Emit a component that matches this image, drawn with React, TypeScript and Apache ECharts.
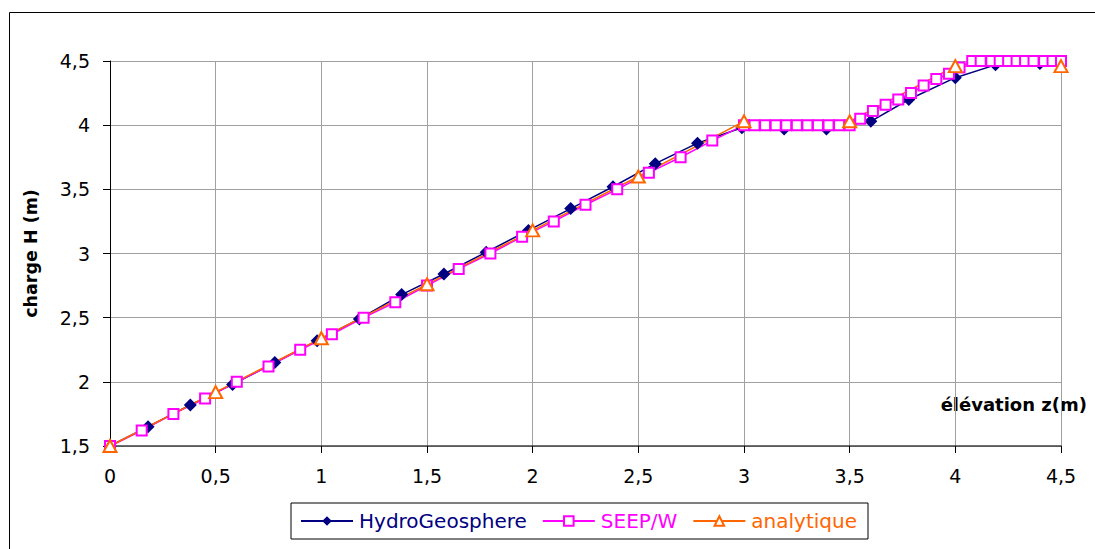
import React, { useEffect, useRef } from "react";
import * as echarts from "echarts";

const xTicks = [0, 0.5, 1, 1.5, 2, 2.5, 3, 3.5, 4, 4.5];
const yTicks = [1.5, 2, 2.5, 3, 3.5, 4, 4.5];

const seriesNames = ["HydroGeosphere", "SEEP/W", "analytique"];
const seriesColors = ["#000080", "#FF00FF", "#FF6600"];

const hgX = [0, 0.18, 0.38, 0.58, 0.78, 0.98, 1.18, 1.38, 1.58, 1.78, 1.98, 2.18, 2.38, 2.58, 2.78, 2.99, 3.19, 3.39, 3.6, 3.78, 4.0, 4.19, 4.4];
const hgY = [1.5, 1.65, 1.82, 1.98, 2.15, 2.32, 2.49, 2.68, 2.84, 3.01, 3.18, 3.35, 3.52, 3.7, 3.86, 3.98, 3.97, 3.97, 4.03, 4.2, 4.37, 4.47, 4.48];

const seepX = [
  0, 0.15, 0.3, 0.45, 0.6, 0.75, 0.9, 1.05, 1.2, 1.35, 1.5, 1.65, 1.8, 1.95, 2.1, 2.25, 2.4, 2.55, 2.7, 2.85, 3.0,
  3.05, 3.1, 3.15, 3.2, 3.25, 3.3, 3.35, 3.4, 3.45, 3.5,
  3.55, 3.61, 3.67, 3.73, 3.79, 3.85, 3.91, 3.97, 4.02,
  4.08, 4.12, 4.17, 4.21, 4.25, 4.29, 4.33, 4.37, 4.42, 4.46, 4.5,
];
const seepY = [
  1.5, 1.62, 1.75, 1.87, 2.0, 2.12, 2.25, 2.37, 2.5, 2.62, 2.75, 2.88, 3.0, 3.13, 3.25, 3.38, 3.5, 3.63, 3.75, 3.88, 4.0,
  4.0, 4.0, 4.0, 4.0, 4.0, 4.0, 4.0, 4.0, 4.0, 4.0,
  4.05, 4.11, 4.16, 4.2, 4.25, 4.31, 4.36, 4.4, 4.45,
  4.5, 4.5, 4.5, 4.5, 4.5, 4.5, 4.5, 4.5, 4.5, 4.5, 4.5,
];

const anX = [0, 0.5, 1, 1.5, 2, 2.5, 3, 3.5, 4, 4.5];
const anY = [1.5, 1.92, 2.34, 2.76, 3.18, 3.6, 4.03, 4.03, 4.46, 4.46];

const xTitle = "élévation z(m)";
const yTitle = "charge H (m)";

const FONT = "DejaVu Sans";

const fmt = (v: number) => String(v).replace(".", ",");
const zip = (xs: number[], ys: number[]) => xs.map((x, i) => [x, ys[i]]);

export default function App() {
  const ref = useRef<HTMLDivElement>(null);

  useEffect(() => {
    if (!ref.current) return;
    const chart = echarts.init(ref.current, undefined, { renderer: "svg" });
    const option: any = {
      animation: false,
      backgroundColor: "#ffffff",
      grid: { left: 110, right: 34, top: 61, bottom: 103, containLabel: false },
      xAxis: {
        type: "value",
        min: xTicks[0],
        max: xTicks[xTicks.length - 1],
        interval: 0.5,
        axisLine: { show: true, onZero: false, lineStyle: { color: "#404040", width: 1.5 } },
        axisTick: { show: true, length: 7, lineStyle: { color: "#000" } },
        axisLabel: { margin: 20, color: "#000", fontFamily: FONT, fontSize: 19, formatter: fmt },
        splitLine: { show: true, lineStyle: { color: "#a0a0a0", width: 1 } },
      },
      yAxis: {
        type: "value",
        min: yTicks[0],
        max: yTicks[yTicks.length - 1],
        interval: 0.5,
        name: yTitle,
        nameLocation: "middle",
        nameGap: 70,
        nameTextStyle: { fontFamily: FONT, fontWeight: "bold", fontSize: 17.5, color: "#000" },
        axisLine: { show: true, onZero: false, lineStyle: { color: "#000", width: 1 } },
        axisTick: { show: true, length: 7, lineStyle: { color: "#000" } },
        axisLabel: { margin: 20, color: "#000", fontFamily: FONT, fontSize: 19, formatter: fmt },
        splitLine: { show: true, lineStyle: { color: "#a0a0a0", width: 1 } },
      },
      legend: {
        left: 291,
        top: 503,
        orient: "horizontal",
        itemWidth: 52,
        itemHeight: 12,
        itemGap: 15,
        padding: [8, 11, 8, 9],
        borderColor: "#000",
        borderWidth: 1,
        textStyle: { fontFamily: FONT, fontSize: 20, padding: [0, 0, 0, 1] },
        data: seriesNames.map((n, i) => ({ name: n, textStyle: { color: seriesColors[i] } })),
      },
      graphic: [
        {
          type: "rect",
          silent: true,
          shape: { x: 9.5, y: 12.5, width: 1200, height: 700 },
          style: { fill: "none", stroke: "#000", lineWidth: 1 },
        },
        {
          type: "text",
          silent: true,
          x: 1087,
          y: 404,
          style: {
            text: xTitle,
            fontFamily: FONT,
            fontWeight: "bold",
            fontSize: 18,
            fill: "#000",
            align: "right",
            verticalAlign: "middle",
          },
        },
      ],
      series: [
        {
          name: seriesNames[0],
          type: "line",
          data: zip(hgX, hgY),
          symbol: "diamond",
          symbolSize: [13, 13],
          showAllSymbol: true,
          color: seriesColors[0],
          lineStyle: { color: seriesColors[0], width: 1.5 },
          itemStyle: { color: seriesColors[0] },
        },
        {
          name: seriesNames[1],
          type: "line",
          data: zip(seepX, seepY),
          symbol: "rect",
          symbolSize: 10,
          showAllSymbol: true,
          color: seriesColors[1],
          lineStyle: { color: seriesColors[1], width: 1.5 },
          itemStyle: { color: "#ffffff", borderColor: seriesColors[1], borderWidth: 2 },
        },
        {
          name: seriesNames[2],
          type: "line",
          data: zip(anX, anY),
          symbol: "triangle",
          symbolSize: [13, 12],
          showAllSymbol: true,
          color: seriesColors[2],
          lineStyle: { color: seriesColors[2], width: 1.5 },
          itemStyle: { color: "#ffffff", borderColor: seriesColors[2], borderWidth: 2 },
        },
      ],
    };
    chart.setOption(option);
    return () => chart.dispose();
  }, []);

  return (
    <div
      ref={ref}
      style={{ position: "fixed", left: 0, top: 0, width: 1095, height: 549, background: "#fff" }}
    />
  );
}
